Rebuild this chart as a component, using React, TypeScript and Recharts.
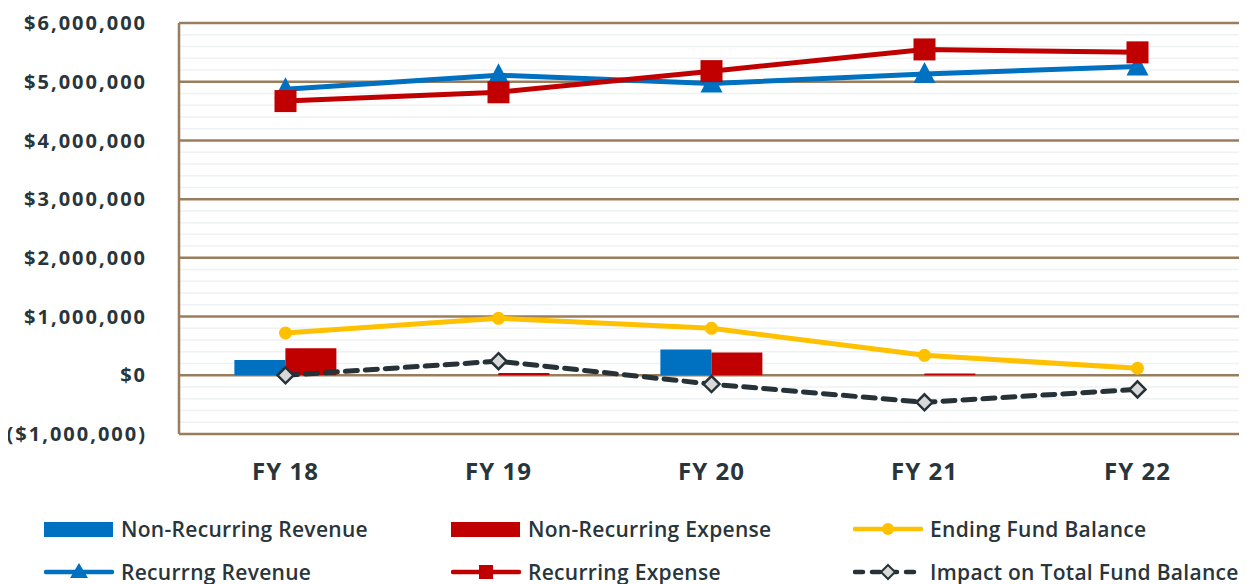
import React from 'react';
import {
  ComposedChart,
  Bar,
  Line,
  XAxis,
  YAxis,
  CartesianGrid,
  Legend,
} from 'recharts';

const years = ['FY 18', 'FY 19', 'FY 20', 'FY 21', 'FY 22'];
const nonRecurringRevenue = [260000, 0, 440000, 0, 0];
const nonRecurringExpense = [460000, 40000, 390000, 30000, 0];
const recurringRevenue = [4870000, 5110000, 4970000, 5130000, 5260000];
const recurringExpense = [4670000, 4820000, 5180000, 5550000, 5500000];
const endingFundBalance = [720000, 970000, 800000, 340000, 120000];
const impactOnFundBalance = [0, 240000, -150000, -460000, -240000];

const majorTicks = [-1000000, 0, 1000000, 2000000, 3000000, 4000000, 5000000, 6000000];
const minorTicks = [
  -800000, -600000, -400000, -200000,
  200000, 400000, 600000, 800000,
  1200000, 1400000, 1600000, 1800000,
  2200000, 2400000, 2600000, 2800000,
  3200000, 3400000, 3600000, 3800000,
  4200000, 4400000, 4600000, 4800000,
  5200000, 5400000, 5600000, 5800000,
];
const allTicks = [...majorTicks, ...minorTicks].sort((a, b) => a - b);

const COLORS = {
  blue: '#0070c0',
  red: '#c00000',
  yellow: '#ffc000',
  dark: '#263238',
  diamond: '#d9d9d9',
  major: '#9a7d5c',
  minor: '#eef2f2',
  text: '#28353b',
};

const FONT = '"Open Sans", sans-serif';

const data = years.map((year, i) => ({
  year,
  nrRev: nonRecurringRevenue[i],
  nrExp: nonRecurringExpense[i],
  rRev: recurringRevenue[i],
  rExp: recurringExpense[i],
  ending: endingFundBalance[i],
  impact: impactOnFundBalance[i],
}));

// only the million ticks get a label
const formatMoney = (v: number) => {
  if (!majorTicks.includes(v)) return '';
  const s = '$' + Math.abs(v).toLocaleString('en-US');
  return v < 0 ? `(${s})` : s;
};

// brown lines on the millions, faint ones in between
const GridLine = (props: any) => {
  const { x1, y1, x2, y2, index } = props;
  const major = majorTicks.includes(allTicks[index]);
  return (
    <line
      key={`grid-${index}`}
      x1={x1}
      y1={y1}
      x2={x2}
      y2={y2}
      stroke={major ? COLORS.major : COLORS.minor}
      strokeWidth={major ? 2.5 : 1.5}
    />
  );
};

// custom markers
const TriangleDot = (props: any) => {
  const { cx, cy, index } = props;
  if (cx == null || cy == null) return null;
  return <path key={`tri-${index}`} d={`M${cx},${cy - 12} L${cx + 11},${cy + 9} L${cx - 11},${cy + 9} Z`} fill={COLORS.blue} />;
};

const SquareDot = (props: any) => {
  const { cx, cy, index } = props;
  if (cx == null || cy == null) return null;
  return <rect key={`sq-${index}`} x={cx - 11} y={cy - 11} width={22} height={22} fill={COLORS.red} />;
};

const DiamondDot = (props: any) => {
  const { cx, cy, index } = props;
  if (cx == null || cy == null) return null;
  return (
    <path
      key={`dia-${index}`}
      d={`M${cx},${cy - 8} L${cx + 8},${cy} L${cx},${cy + 8} L${cx - 8},${cy} Z`}
      fill={COLORS.diamond}
      stroke={COLORS.dark}
      strokeWidth={2.5}
    />
  );
};

const legendItems = [
  { label: 'Non-Recurring Revenue', kind: 'bar', color: COLORS.blue, col: 0, row: 0 },
  { label: 'Non-Recurring Expense', kind: 'bar', color: COLORS.red, col: 1, row: 0 },
  { label: 'Ending Fund Balance', kind: 'circle', color: COLORS.yellow, col: 2, row: 0 },
  { label: 'Recurrng Revenue', kind: 'triangle', color: COLORS.blue, col: 0, row: 1 },
  { label: 'Recurring Expense', kind: 'square', color: COLORS.red, col: 1, row: 1 },
  { label: 'Impact on Total Fund Balance', kind: 'diamond', color: COLORS.dark, col: 2, row: 1 },
];
const legendCols = [36, 443, 845];
const legendRows = [45, 88];

function LegendIcon({ kind, color }: { kind: string; color: string }) {
  return (
    <svg width={70} height={24} style={{ display: 'block' }}>
      {kind === 'bar' && <rect x={0} y={5} width={69} height={15} fill={color} />}
      {kind !== 'bar' && kind !== 'diamond' && (
        <line x1={2} y1={12} x2={68} y2={12} stroke={color} strokeWidth={4.5} strokeLinecap="round" />
      )}
      {kind === 'circle' && <circle cx={35} cy={12} r={6} fill={color} />}
      {kind === 'triangle' && <path d="M35,3 L44,18 L26,18 Z" fill={color} />}
      {kind === 'square' && <rect x={28} y={5} width={14} height={14} fill={color} />}
      {kind === 'diamond' && (
        <>
          <line x1={2} y1={12} x2={68} y2={12} stroke={color} strokeWidth={4.5} strokeDasharray="8 9" strokeLinecap="round" />
          <path d="M35,5 L42,12 L35,19 L28,12 Z" fill={COLORS.diamond} stroke={color} strokeWidth={2} />
        </>
      )}
    </svg>
  );
}

function CustomLegend() {
  return (
    <div style={{ position: 'relative', width: 1239, height: 100 }}>
      {legendItems.map((item) => (
        <div
          key={item.label}
          style={{
            position: 'absolute',
            left: legendCols[item.col],
            top: legendRows[item.row] - 14,
            height: 28,
            display: 'flex',
            alignItems: 'center',
            gap: 7,
            fontFamily: FONT,
            fontWeight: 600,
            fontSize: 21,
            letterSpacing: 0.3,
            color: COLORS.text,
            whiteSpace: 'nowrap',
          }}
        >
          <LegendIcon kind={item.kind} color={item.color} />
          <span>{item.label}</span>
        </div>
      ))}
    </div>
  );
}

export default function App() {
  return (
    <div style={{ width: 1239, height: 576, background: '#fff' }}>
      <ComposedChart
        width={1239}
        height={576}
        data={data}
        margin={{ top: 15, right: 3, left: 0, bottom: 0 }}
        barCategoryGap="26%"
        barGap={0}
      >
        <CartesianGrid vertical={false} horizontal={GridLine} />
        <XAxis
          dataKey="year"
          axisLine={false}
          tickLine={false}
          tickSize={0}
          tickMargin={29}
          height={50}
          tick={{ fontFamily: FONT, fontWeight: 700, fontSize: 24, fill: COLORS.text, letterSpacing: 1 }}
        />
        <YAxis
          width={171}
          domain={[-1000000, 6000000]}
          ticks={allTicks}
          interval={0}
          tickFormatter={formatMoney}
          axisLine={{ stroke: COLORS.major, strokeWidth: 2.5 }}
          tickLine={false}
          tickSize={0}
          tickMargin={32}
          tick={{ fontFamily: FONT, fontWeight: 700, fontSize: 20, fill: COLORS.text, letterSpacing: 2 }}
          allowDataOverflow
        />
        <Legend verticalAlign="bottom" content={() => <CustomLegend />} wrapperStyle={{ left: 0 }} />
        <Bar dataKey="nrRev" name="Non-Recurring Revenue" fill={COLORS.blue} isAnimationActive={false} />
        <Bar dataKey="nrExp" name="Non-Recurring Expense" fill={COLORS.red} isAnimationActive={false} />
        <Line
          dataKey="ending"
          name="Ending Fund Balance"
          stroke={COLORS.yellow}
          strokeWidth={5}
          dot={{ r: 6.5, fill: COLORS.yellow, stroke: 'none' }}
          isAnimationActive={false}
        />
        <Line
          dataKey="impact"
          name="Impact on Total Fund Balance"
          stroke={COLORS.dark}
          strokeWidth={5}
          strokeDasharray="12 8"
          strokeLinecap="round"
          dot={DiamondDot}
          isAnimationActive={false}
        />
        <Line
          dataKey="rRev"
          name="Recurrng Revenue"
          stroke={COLORS.blue}
          strokeWidth={5}
          dot={TriangleDot}
          isAnimationActive={false}
        />
        <Line
          dataKey="rExp"
          name="Recurring Expense"
          stroke={COLORS.red}
          strokeWidth={5}
          dot={SquareDot}
          isAnimationActive={false}
        />
      </ComposedChart>
    </div>
  );
}
